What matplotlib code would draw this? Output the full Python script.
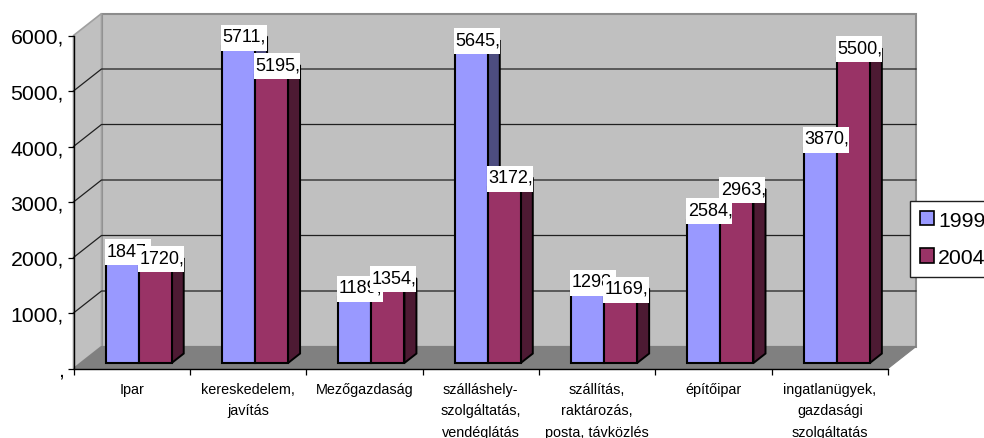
import matplotlib
matplotlib.use("Agg")
import numpy as np
import matplotlib.pyplot as plt
from matplotlib.patches import Patch, Polygon, Rectangle

plt.rcParams["font.family"] = ["Liberation Sans", "DejaVu Sans"]

categories = [
    "Ipar",
    "kereskedelem,\njavítás",
    "Mezőgazdaság",
    "szálláshely-\nszolgáltatás,\nvendéglátás",
    "szállítás,\nraktározás,\nposta, távközlés",
    "építőipar",
    "ingatlanügyek,\ngazdasági\nszolgáltatás",
]
years = ["1999", "2004"]
values_1999 = [1847, 5711, 1189, 5645, 1298, 2584, 3870]
values_2004 = [1720, 5195, 1354, 3172, 1169, 2963, 5500]
y_ticks = [0, 1000, 2000, 3000, 4000, 5000, 6000]

FRONT_COLORS = ["#9999FF", "#993366"]
SIDE_COLORS = ["#4D4D80", "#4D1A33"]
WALL = "#C0C0C0"
FLOOR = "#808080"

W, H = 984, 439
LEFT, RIGHT, TOP, BOTTOM = 73.5, 888, 36.5, 369.5

# one pixel on each axis in data units, used to express the 3d depth
px_x = 7 / (RIGHT - LEFT)
px_y = 6000 / (BOTTOM - TOP)
DEPTH_X = 28 * px_x
DEPTH_Y = 22 * px_y
BAR_W = 33 * px_x
GAP = (1 - 2 * BAR_W) / 2
BAR_FRONT = 0.25
BAR_BACK = 0.68


def oblique(x, y, depth):
    return (x + depth * DEPTH_X, y + depth * DEPTH_Y)


def draw_face(ax, pts, color, zorder, edge="black", lw=1.4):
    ax.add_patch(Polygon(pts, closed=True, facecolor=color, edgecolor=edge,
                         linewidth=lw, joinstyle="miter", clip_on=False, zorder=zorder))


def draw_bar(ax, x, value, width, front, side, zorder):
    d0, d1 = BAR_FRONT, BAR_BACK
    x0, y0 = oblique(x, 0, d0)
    # right side and top first, the front face goes over them
    draw_face(ax, [oblique(x + width, 0, d0), oblique(x + width, 0, d1),
                   oblique(x + width, value, d1), oblique(x + width, value, d0)], side, zorder)
    draw_face(ax, [oblique(x, value, d0), oblique(x, value, d1),
                   oblique(x + width, value, d1), oblique(x + width, value, d0)], side, zorder)
    ax.bar(x0, value, width=width, bottom=y0, align="edge", color=front,
           edgecolor="black", linewidth=1.5, clip_on=False, zorder=zorder + 0.1)


fig = plt.figure(figsize=(W / 100, H / 100), dpi=100)
ax = fig.add_axes([LEFT / W, 1 - BOTTOM / H, (RIGHT - LEFT) / W, (BOTTOM - TOP) / H])
ax.set_xlim(0, len(categories))
ax.set_ylim(0, y_ticks[-1])
ax.patch.set_visible(False)

n = len(categories)

# walls and floor
draw_face(ax, [oblique(0, 0, 1), oblique(n, 0, 1), oblique(n, 6000, 1), oblique(0, 6000, 1)],
          WALL, 1, edge="#8C8C8C", lw=1.5)
draw_face(ax, [oblique(0, 0, 0), oblique(0, 0, 1), oblique(0, 6000, 1), oblique(0, 6000, 0)],
          WALL, 1, edge="#A0A0A0", lw=1.2)
draw_face(ax, [oblique(0, 0, 0), oblique(n, 0, 0), oblique(n, 0, 1), oblique(0, 0, 1)],
          FLOOR, 1.5, edge=FLOOR, lw=0.8)

# gridlines run along the left wall and across the back wall
for t in y_ticks[1:-1]:
    xs, ys = zip(oblique(0, t, 0), oblique(0, t, 1), oblique(n, t, 1))
    ax.plot(xs, ys, color="#202020", lw=0.9, clip_on=False, zorder=2)

labels = []
for i in range(n):
    for s, vals in enumerate([values_1999, values_2004]):
        x = i + GAP + s * BAR_W
        draw_bar(ax, x, vals[i], BAR_W, FRONT_COLORS[s], SIDE_COLORS[s], 3 + i + s * 0.3)
        labels.append((x, vals[i]))

# white label boxes sit partly over the bar tops, later ones cover earlier ones
for k, (x, v) in enumerate(labels):
    lx, ly = oblique(x, v, BAR_FRONT)
    ax.add_patch(Rectangle((lx - 1 * px_x, ly - 4.6 * px_y), 46 * px_x, 26 * px_y,
                           facecolor="white", edgecolor="none", clip_on=False, zorder=20 + k))
    ax.text(lx + 0.5 * px_x, ly + 5.4 * px_y, f"{v},", ha="left", va="baseline", fontsize=13,
            color="black", zorder=20.5 + k, clip_on=False)

for name in ["top", "right"]:
    ax.spines[name].set_visible(False)
for name in ["left", "bottom"]:
    ax.spines[name].set_linewidth(1.0)
    ax.spines[name].set_zorder(15)

ax.set_yticks(y_ticks)
ax.set_yticklabels(["," if t == 0 else f"{t}," for t in y_ticks], fontsize=15.3)
ax.tick_params(axis="y", length=4.5, width=0.9, pad=2.5)

ax.set_xticks(np.arange(n + 1))
ax.set_xticklabels([])
ax.tick_params(axis="x", which="major", length=4.5, width=0.9)
ax.set_xticks(np.arange(n) + 0.5, minor=True)
ax.set_xticklabels(categories, minor=True, fontsize=10.4, linespacing=1.68)
ax.tick_params(axis="x", which="minor", length=0, pad=9.5)

handles = [Patch(facecolor=c, edgecolor="black", linewidth=1.2) for c in FRONT_COLORS]
fig.legend(handles, years, loc="upper left", bbox_to_anchor=(909.5 / W, 1 - 201.5 / H),
           borderaxespad=0, fontsize=15.3, frameon=True, fancybox=False, framealpha=1,
           edgecolor="#202020", handlelength=0.66, handleheight=0.66, handletextpad=0.2,
           labelspacing=0.86, borderpad=0.48)

fig.savefig("out.png", dpi=100)
plt.close(fig)
